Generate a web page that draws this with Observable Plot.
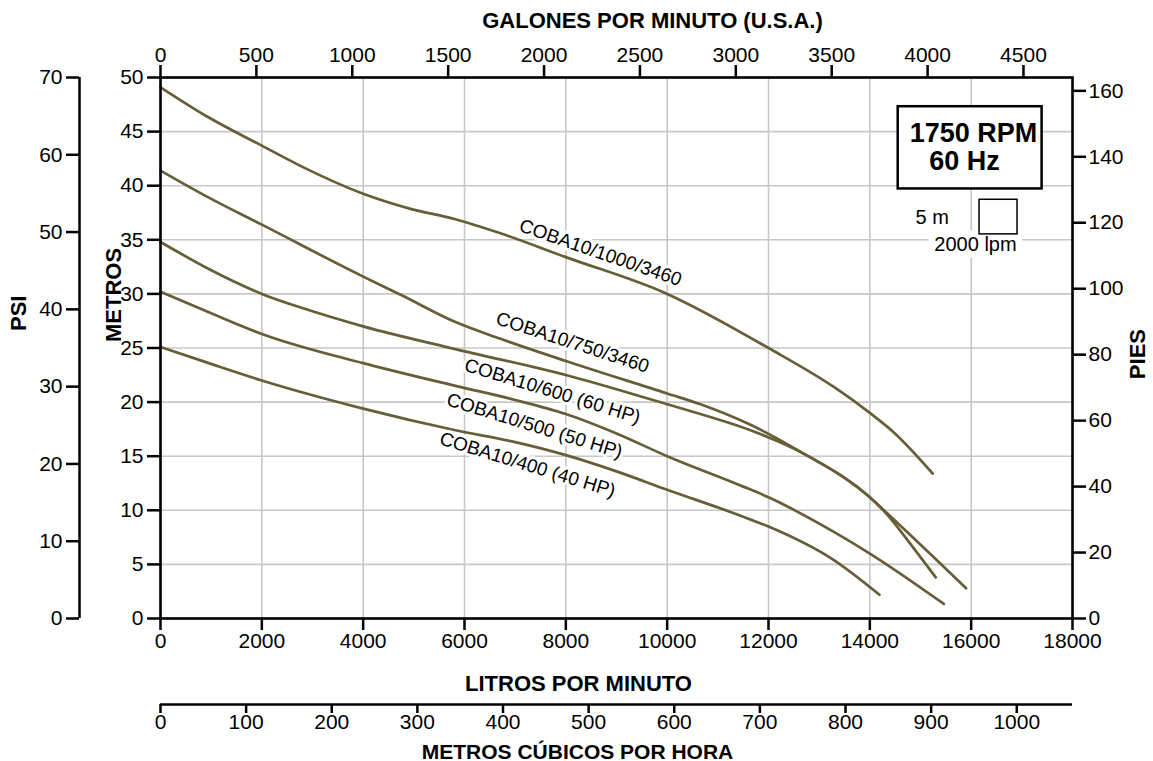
<!DOCTYPE html>
<html>
<head>
<meta charset="utf-8">
<script src="https://cdn.jsdelivr.net/npm/d3@7"></script>
<script src="https://cdn.jsdelivr.net/npm/@observablehq/plot@0.6"></script>
<style>
  html, body { margin: 0; padding: 0; background: #ffffff; }
  #chart svg { display: block; }
</style>
</head>
<body>
<div id="chart"></div>
<script>
// ---------------- data ----------------
const models = ["COBA10/1000/3460", "COBA10/750/3460", "COBA10/600 (60 HP)", "COBA10/500 (50 HP)", "COBA10/400 (40 HP)"];

// flow in litres per minute, head in metres
const flow1000 = [0, 954, 2000, 2862, 4000, 4901, 5822, 6710, 8000, 10000, 12000, 13290, 14000, 14474, 15240];
const head1000 = [49.1, 46.3, 43.7, 41.6, 39.25, 37.9, 36.9, 35.6, 33.4, 30.0, 25.0, 21.4, 19.0, 17.2, 13.4];

const flow750 = [0, 954, 2000, 4000, 4770, 5822, 6710, 8000, 10000, 10658, 11645, 12632, 14000, 14325, 14800, 15300];
const head750 = [41.4, 38.9, 36.4, 31.6, 29.85, 27.4, 25.85, 23.8, 20.8, 19.8, 17.9, 15.4, 11.2, 9.7, 6.9, 3.8];

const flow600 = [0, 954, 2000, 2862, 4000, 5822, 8000, 10000, 10658, 11645, 12632, 14000, 14325, 15900];
const head600 = [34.8, 32.3, 30.0, 28.6, 27.0, 24.9, 22.5, 19.8, 18.9, 17.4, 15.4, 11.2, 9.8, 2.8];

const flow500 = [0, 954, 2000, 4000, 5822, 7000, 8000, 9000, 10000, 11447, 12000, 13290, 14000, 15460];
const head500 = [30.2, 28.3, 26.3, 23.6, 21.5, 20.2, 18.9, 17.1, 15.0, 12.3, 11.2, 8.0, 6.0, 1.35];

const flow400 = [0, 954, 2000, 4000, 5822, 7000, 8000, 9000, 10000, 11447, 12000, 13290, 14190];
const head400 = [25.1, 23.6, 22.0, 19.4, 17.4, 16.3, 15.1, 13.6, 11.9, 9.5, 8.5, 5.4, 2.2];

// tick labels of the five axes
const lpmTicks = [0, 2000, 4000, 6000, 8000, 10000, 12000, 14000, 16000, 18000];
const gpmTicks = [0, 500, 1000, 1500, 2000, 2500, 3000, 3500, 4000, 4500];
const m3hTicks = [0, 100, 200, 300, 400, 500, 600, 700, 800, 900, 1000];
const meterTicks = [0, 5, 10, 15, 20, 25, 30, 35, 40, 45, 50];
const psiTicks = [0, 10, 20, 30, 40, 50, 60, 70];
const feetTicks = [0, 20, 40, 60, 80, 100, 120, 140, 160];

// curve label anchors (flow, head) and their slant
const labelFlow = [8684, 8132, 7737, 7382, 7244];
const labelHead = [33.8, 25.5, 21.0, 17.8, 14.2];
const labelAngle = [19, 18, 17, 17, 17];

// unit conversions used by the secondary axes
const LPM_PER_GAL = 3.785;
const LPM_PER_M3H = 16.9;
const M_PER_FT = 0.3048;
const M_PER_PSI = 50 / 70;

// annotation box and scale square (in data units)
const rpmBox = {x1: 14560, x2: 17400, y1: 39.7, y2: 47.3};
const rpmLines = [{t: "1750 RPM", x: 16046, y: 44.85}, {t: "60 Hz", x: 15868, y: 42.25}];
const scaleSquare = {x1: 16165, x2: 16915, y1: 35.5, y2: 38.7};
const scaleMeters = {t: "5 m", x: 15560, y: 37.05};
const scaleFlow = {t: "2000 lpm", x: 16085, y: 34.55};

// ---------------- build ----------------
const series = [[models[0], flow1000, head1000], [models[1], flow750, head750], [models[2], flow600, head600],
                [models[3], flow500, head500], [models[4], flow400, head400]];
const rows = [];
series.forEach(([model, fl, hd]) => fl.forEach((f, i) => rows.push({model, flow: f, head: hd[i]})));
const labels = models.map((m, i) => ({text: m, flow: labelFlow[i], head: labelHead[i], angle: labelAngle[i]}));

const FONT = "'Liberation Sans', Arial, Helvetica, sans-serif";
const INK = "#000000";
const CURVE = "#675e38";
const GRID = "#c8c8c8";
const TICKFS = 21;
const TITLEFS = 22;
const plain = d => String(d);

const chart = Plot.plot({
  width: 1153,
  height: 761,
  marginTop: 77, marginRight: 81, marginBottom: 143, marginLeft: 160,
  x: {domain: [0, 18000]},
  y: {domain: [0, 50]},
  style: {fontFamily: FONT, fontSize: "21px", color: INK, background: "#ffffff", overflow: "visible"},
  marks: [
    Plot.gridX({ticks: lpmTicks, stroke: GRID, strokeOpacity: 1, strokeWidth: 1.6}),
    Plot.gridY({ticks: meterTicks, stroke: GRID, strokeOpacity: 1, strokeWidth: 1.6}),
    Plot.line(rows, {x: "flow", y: "head", z: "model", stroke: CURVE, strokeWidth: 2.7, curve: "monotone-x"}),
    Plot.text(labels, {x: "flow", y: "head", text: "text", rotate: "angle", fontSize: 19, fill: INK,
                       stroke: "white", strokeWidth: 6}),
    // RPM box
    Plot.rect([rpmBox], {x1: "x1", x2: "x2", y1: "y1", y2: "y2", fill: "white", stroke: INK, strokeWidth: 2.5}),
    Plot.text(rpmLines, {x: "x", y: "y", text: "t", fontSize: 27, fontWeight: "bold", fill: INK}),
    // scale square
    Plot.text([scaleMeters], {x: "x", y: "y", text: "t", textAnchor: "end", fontSize: 20, fill: INK}),
    Plot.text([scaleFlow], {x: "x", y: "y", text: "t", fontSize: 20, fill: INK, stroke: "white", strokeWidth: 14}),
    Plot.rect([scaleSquare], {x1: "x1", x2: "x2", y1: "y1", y2: "y2", fill: "none", stroke: INK, strokeWidth: 1.5}),
    // frame
    Plot.frame({stroke: INK, strokeWidth: 2.6}),
    // axes
    Plot.axisX({ticks: lpmTicks, anchor: "bottom", tickFormat: plain, tickSize: 12, tickPadding: 3, fontSize: TICKFS, strokeWidth: 2.5, label: null}),
    Plot.axisX({ticks: gpmTicks.map(g => g * LPM_PER_GAL), anchor: "top", tickFormat: d => String(Math.round(d / LPM_PER_GAL)),
                tickSize: 13, tickPadding: 3, fontSize: TICKFS, strokeWidth: 2.5, label: null}),
    Plot.axisY({ticks: meterTicks, anchor: "left", tickFormat: plain, tickSize: 13, tickPadding: 4, fontSize: TICKFS, strokeWidth: 2.5, label: null}),
    Plot.axisY({ticks: feetTicks.map(f => f * M_PER_FT), anchor: "right", tickFormat: d => String(Math.round(d / M_PER_FT)),
                tickSize: 13, tickPadding: 3, fontSize: TICKFS, strokeWidth: 2.5, label: null}),
    Plot.ruleX([0], {dx: -81, stroke: INK, strokeWidth: 2.5}),
    Plot.axisY({ticks: psiTicks.map(p => p * M_PER_PSI), anchor: "left", dx: -81, tickFormat: d => String(Math.round(d / M_PER_PSI)),
                tickSize: 13, tickPadding: 4, fontSize: TICKFS, strokeWidth: 2.5, label: null}),
    Plot.ruleY([0], {dy: 86, stroke: INK, strokeWidth: 2.5}),
    Plot.axisX({ticks: m3hTicks.map(v => v * LPM_PER_M3H), anchor: "bottom", dy: 86, tickFormat: d => String(Math.round(d / LPM_PER_M3H)),
                tickSize: 9, tickPadding: 1, fontSize: TICKFS, strokeWidth: 2.5, label: null}),
    // axis titles
    Plot.text(["GALONES POR MINUTO (U.S.A.)"], {text: d => d, frameAnchor: "top", dx: 36, dy: -57, lineAnchor: "middle", fontWeight: "bold", fontSize: TITLEFS, fill: INK}),
    Plot.text(["LITROS POR MINUTO"], {text: d => d, frameAnchor: "bottom", dx: -38, dy: 65, lineAnchor: "middle", fontWeight: "bold", fontSize: TITLEFS, fill: INK}),
    Plot.text(["METROS CÚBICOS POR HORA"], {text: d => d, frameAnchor: "bottom", dx: -39, dy: 134, lineAnchor: "middle", fontWeight: "bold", fontSize: 21, fill: INK}),
    Plot.text(["PSI"], {text: d => d, frameAnchor: "left", dx: -142, dy: -17, rotate: -90, lineAnchor: "middle", fontWeight: "bold", fontSize: TITLEFS, fill: INK}),
    Plot.text(["METROS"], {text: d => d, frameAnchor: "left", dx: -47, dy: -6, rotate: -90, lineAnchor: "middle", fontWeight: "bold", fontSize: TITLEFS, fill: INK}),
    Plot.text(["PIES"], {text: d => d, frameAnchor: "right", dx: 65, dy: -19, rotate: -90, lineAnchor: "middle", fontWeight: "bold", fontSize: TITLEFS, fill: INK})
  ]
});
document.getElementById("chart").appendChild(chart);
</script>
</body>
</html>
